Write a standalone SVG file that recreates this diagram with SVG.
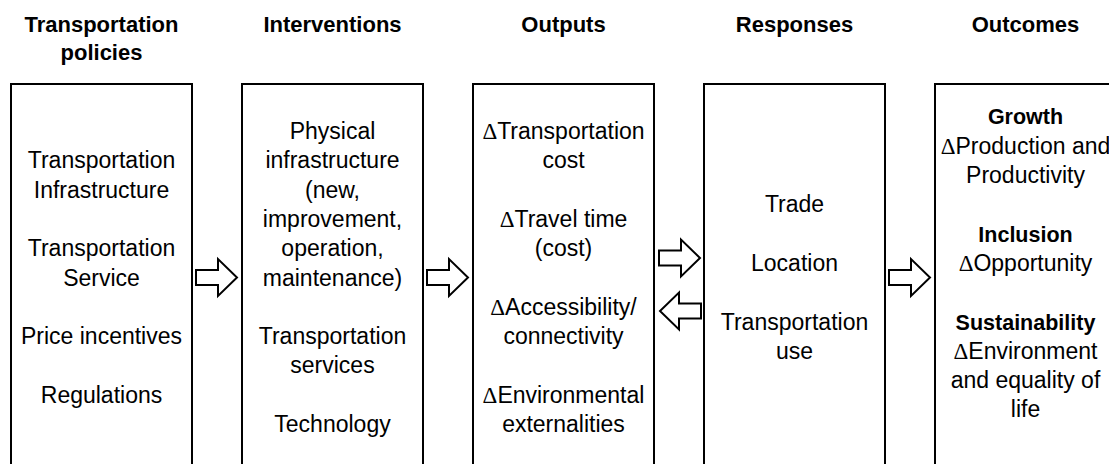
<svg xmlns="http://www.w3.org/2000/svg" width="1109" height="464" viewBox="0 0 1109 464">
  <style>
    .box{fill:#fff;stroke:#000;stroke-width:2}
    .t{font-family:"Liberation Sans",Arial,sans-serif;font-size:23px;text-anchor:middle;fill:#000}
    .b{font-weight:bold;font-size:21.5px}
    .h{font-family:"Liberation Sans",Arial,sans-serif;font-size:22px;font-weight:bold;text-anchor:middle;fill:#000}
    .d{font-family:"Liberation Serif","Times New Roman",serif}
    .arr{fill:#fff;stroke:#000;stroke-width:2;stroke-linejoin:miter}
  </style>
  <defs>
    <!-- block arrow pointing right, centred on (0,0) -->
    <path id="blockArrow" d="M-21,-7.5 H1 V-18.5 L20,0 L1,18.5 V7.5 H-21 Z"/>
  </defs>

  <!-- column headings -->
  <g id="headings">
    <text class="h" x="101.5" y="32">Transportation</text>
    <text class="h" x="101.5" y="60">policies</text>
    <text class="h" x="332.5" y="32">Interventions</text>
    <text class="h" x="563.5" y="32">Outputs</text>
    <text class="h" x="794.5" y="32">Responses</text>
    <text class="h" x="1025.5" y="32">Outcomes</text>
  </g>

  <g id="policies">
    <rect class="box" x="11" y="84" width="181" height="400"/>
    <text class="t" x="101.5" y="168.3">Transportation</text>
    <text class="t" x="101.5" y="197.6">Infrastructure</text>
    <text class="t" x="101.5" y="256.2">Transportation</text>
    <text class="t" x="101.5" y="285.5">Service</text>
    <text class="t" x="101.5" y="344.1">Price incentives</text>
    <text class="t" x="101.5" y="402.7">Regulations</text>
  </g>

  <g id="interventions">
    <rect class="box" x="242" y="84" width="181" height="400"/>
    <text class="t" x="332.5" y="139">Physical</text>
    <text class="t" x="332.5" y="168.3">infrastructure</text>
    <text class="t" x="332.5" y="197.6">(new,</text>
    <text class="t" x="332.5" y="226.9">improvement,</text>
    <text class="t" x="332.5" y="256.2">operation,</text>
    <text class="t" x="332.5" y="285.5">maintenance)</text>
    <text class="t" x="332.5" y="344.1">Transportation</text>
    <text class="t" x="332.5" y="373.4">services</text>
    <text class="t" x="332.5" y="432">Technology</text>
  </g>

  <g id="outputs">
    <rect class="box" x="473" y="84" width="181" height="400"/>
    <text class="t" x="563.5" y="139"><tspan class="d">Δ</tspan>Transportation</text>
    <text class="t" x="563.5" y="168.3">cost</text>
    <text class="t" x="563.5" y="226.9"><tspan class="d">Δ</tspan>Travel time</text>
    <text class="t" x="563.5" y="256.2">(cost)</text>
    <text class="t" x="563.5" y="314.8"><tspan class="d">Δ</tspan>Accessibility/</text>
    <text class="t" x="563.5" y="344.1">connectivity</text>
    <text class="t" x="563.5" y="402.7"><tspan class="d">Δ</tspan>Environmental</text>
    <text class="t" x="563.5" y="432">externalities</text>
  </g>

  <g id="responses">
    <rect class="box" x="704" y="84" width="181" height="400"/>
    <text class="t" x="794.5" y="212.3">Trade</text>
    <text class="t" x="794.5" y="270.9">Location</text>
    <text class="t" x="794.5" y="329.5">Transportation</text>
    <text class="t" x="794.5" y="358.8">use</text>
  </g>

  <g id="outcomes">
    <rect class="box" x="935" y="84" width="181" height="400"/>
    <text class="t b" x="1025.5" y="124.4">Growth</text>
    <text class="t" x="1025.5" y="153.7"><tspan class="d">Δ</tspan>Production and</text>
    <text class="t" x="1025.5" y="183">Productivity</text>
    <text class="t b" x="1025.5" y="241.6">Inclusion</text>
    <text class="t" x="1025.5" y="270.9"><tspan class="d">Δ</tspan>Opportunity</text>
    <text class="t b" x="1025.5" y="329.5">Sustainability</text>
    <text class="t" x="1025.5" y="358.8"><tspan class="d">Δ</tspan>Environment</text>
    <text class="t" x="1025.5" y="388.1">and equality of</text>
    <text class="t" x="1025.5" y="417.4">life</text>
  </g>

  <!-- block arrows between the columns -->
  <g id="connectors">
    <use href="#blockArrow" class="arr" transform="translate(217,277.5)"/>
    <use href="#blockArrow" class="arr" transform="translate(448,277.5)"/>
    <use href="#blockArrow" class="arr" transform="translate(680,258)"/>
    <use href="#blockArrow" class="arr" transform="translate(680,311) rotate(180)"/>
    <use href="#blockArrow" class="arr" transform="translate(910,277.5)"/>
  </g>
</svg>
